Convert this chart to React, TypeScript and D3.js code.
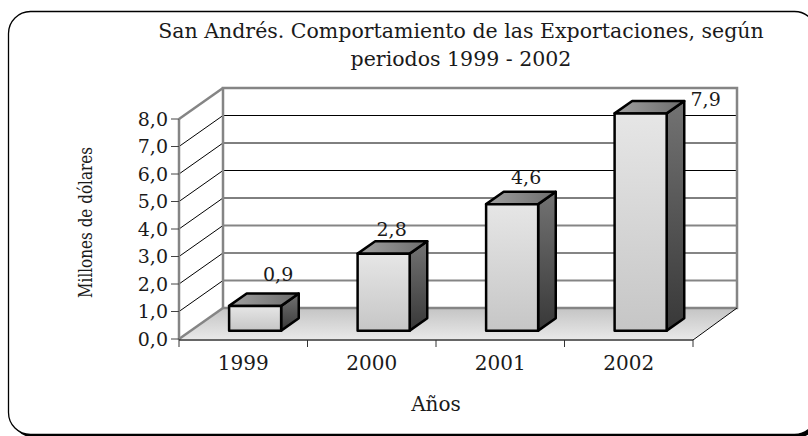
import React from "react";
import * as d3 from "d3";

// ---- data ----
const categories: string[] = ["1999", "2000", "2001", "2002"];
const values: number[] = [0.9, 2.8, 4.6, 7.9];
const yTicks: number[] = [0, 1, 2, 3, 4, 5, 6, 7, 8];
const titleLines: string[] = [
  "San Andrés. Comportamiento de las Exportaciones, según",
  "periodos 1999 - 2002",
];
const yTitle = "Millones de dólares";
const xTitle = "Años";

// ---- layout ----
const W = 808;
const H = 436;
const X0 = 179;
const X1 = 693;
const Y0 = 339;
const Y1 = 119;
const DX = 44;
const DY = -31;
const FONT = "'DejaVu Serif', serif";
const TXT = "#1a1a1a";
const BAR_Z = 0.27;
const BAR_D = 0.4;
const BAR_W = 0.405;
const labelDx = [23, 8, 14, 65];
const labelDy = [-25, -17.6, -19.7, -7.3];

const fmt = (v: number) => d3.format(".1f")(v).replace(".", ",");

export default function App() {
  const x = d3.scaleBand<string>().domain(categories).range([X0, X1]).padding(0);
  const y = d3.scaleLinear().domain([0, 8]).range([Y0, Y1]);
  const bw = x.bandwidth();
  const gray = "#858585";

  const bars = categories.map((c, i) => {
    const v = values[i];
    const cx = (x(c) as number) + bw / 2 + BAR_Z * DX;
    const fw = bw * BAR_W;
    const l = cx - fw / 2;
    const r = cx + fw / 2;
    const yb = Y0 + BAR_Z * DY;
    const yt = y(v) + BAR_Z * DY;
    const sdx = BAR_D * DX;
    const sdy = BAR_D * DY;
    return { c, v, cx, l, r, yb, yt, sdx, sdy, i };
  });

  const pts = (a: number[][]) => a.map((p) => p.join(",")).join(" ");

  return (
    <svg
      width={W}
      height={H}
      style={{ position: "fixed", left: 0, top: 0, background: "#fff" }}
      fontFamily={FONT}
    >
      <defs>
        <linearGradient id="floorG" x1="0" y1="0" x2="0" y2="1">
          <stop offset="0" stopColor="#c4c4c4" />
          <stop offset="1" stopColor="#e8e8e8" />
        </linearGradient>
        <linearGradient id="frontG" x1="0" y1="0" x2="0" y2="1">
          <stop offset="0" stopColor="#e6e6e6" />
          <stop offset="1" stopColor="#c6c6c6" />
        </linearGradient>
        <linearGradient id="topG" x1="0" y1="0" x2="1" y2="0">
          <stop offset="0" stopColor="#a0a0a0" />
          <stop offset="1" stopColor="#6c6c6c" />
        </linearGradient>
        <linearGradient id="sideG" x1="0" y1="0" x2="0" y2="1">
          <stop offset="0" stopColor="#737373" />
          <stop offset="1" stopColor="#383838" />
        </linearGradient>
      </defs>

      {/* frame */}
      <rect x={11.5} y={14.5} width={808} height={423} rx={22} fill="#000" />
      <rect x={8.5} y={11.5} width={808} height={423} rx={22} fill="#fff" stroke="#000" strokeWidth={1.3} />

      {/* title */}
      {titleLines.map((t, i) => (
        <text key={t} x={461} y={38 + i * 28} textAnchor="middle" fontSize={20.5} fill={TXT}>
          {t}
        </text>
      ))}

      {/* side wall */}
      <polygon points={pts([[X0, Y0], [X0 + DX, Y0 + DY], [X0 + DX, Y1 + DY], [X0, Y1]])} fill="#fff" />
      {/* back wall */}
      <rect x={X0 + DX} y={Y1 + DY} width={X1 - X0} height={Y0 - Y1} fill="#fff" />
      {/* floor */}
      <polygon
        points={pts([[X0, Y0], [X1, Y0], [X1 + DX, Y0 + DY], [X0 + DX, Y0 + DY]])}
        fill="url(#floorG)"
      />

      {/* gridlines on back wall */}
      {yTicks
        .filter((v) => v > 0 && v < 8)
        .map((v) => (
          <line
            key={"g" + v}
            x1={X0 + DX}
            x2={X1 + DX}
            y1={y(v) + DY}
            y2={y(v) + DY}
            stroke={v >= 4 ? "#000" : gray}
            strokeWidth={v >= 4 ? 1 : 2}
          />
        ))}
      {/* diagonals on side wall */}
      {yTicks
        .filter((v) => v > 0 && v < 8)
        .map((v) => (
          <line key={"d" + v} x1={X0} y1={y(v)} x2={X0 + DX} y2={y(v) + DY} stroke="#000" strokeWidth={1} />
        ))}

      {/* wall borders */}
      <polyline
        points={pts([[X0 + DX, Y0 + DY], [X1 + DX, Y0 + DY], [X1 + DX, Y1 + DY], [X0 + DX, Y1 + DY], [X0 + DX, Y0 + DY]])}
        fill="none"
        stroke={gray}
        strokeWidth={2.5}
      />
      <line x1={X0} y1={Y1} x2={X0 + DX} y2={Y1 + DY} stroke={gray} strokeWidth={2.5} />
      <line x1={X0} y1={Y0} x2={X0 + DX} y2={Y0 + DY} stroke={gray} strokeWidth={2.5} />
      <line x1={X1} y1={Y0 + 1} x2={X1 + DX} y2={Y0 + DY} stroke="#000" strokeWidth={1} />

      {/* y axis */}
      <line x1={X0} y1={Y0 + 1} x2={X0} y2={Y1} stroke={gray} strokeWidth={2.5} />
      {yTicks.map((v) => (
        <g key={"t" + v}>
          <line x1={X0 - 8} x2={X0} y1={y(v)} y2={y(v)} stroke="#444" strokeWidth={1} />
          <text x={168} y={y(v) + 6.5} textAnchor="end" fontSize={19} fill={TXT}>
            {fmt(v)}
          </text>
        </g>
      ))}

      {/* x axis */}
      <line x1={X0} x2={X1} y1={Y0 + 1} y2={Y0 + 1} stroke="#333" strokeWidth={1.5} />
      {d3.range(categories.length + 1).map((k) => (
        <line key={"xt" + k} x1={X0 + k * bw} x2={X0 + k * bw} y1={Y0 + 1} y2={Y0 + 8} stroke="#333" strokeWidth={1} />
      ))}
      {categories.map((c) => (
        <text key={"xl" + c} x={(x(c) as number) + bw / 2} y={369.5} textAnchor="middle" fontSize={20} fill={TXT}>
          {c}
        </text>
      ))}

      {/* bars */}
      {bars.map((b) => (
        <g key={"b" + b.c} stroke="#000" strokeWidth={2.5} strokeLinejoin="round">
          <polygon
            points={pts([[b.r, b.yt], [b.r + b.sdx, b.yt + b.sdy], [b.r + b.sdx, b.yb + b.sdy], [b.r, b.yb]])}
            fill="url(#sideG)"
          />
          <polygon
            points={pts([[b.l, b.yt], [b.r, b.yt], [b.r + b.sdx, b.yt + b.sdy], [b.l + b.sdx, b.yt + b.sdy]])}
            fill="url(#topG)"
          />
          <rect x={b.l} y={b.yt} width={b.r - b.l} height={b.yb - b.yt} fill="url(#frontG)" />
        </g>
      ))}
      {bars.map((b) => (
        <text
          key={"v" + b.c}
          x={b.cx + labelDx[b.i]}
          y={b.yt + labelDy[b.i]}
          textAnchor="middle"
          fontSize={19}
          fill={TXT}
        >
          {fmt(b.v)}
        </text>
      ))}

      {/* axis titles */}
      <text
        transform="translate(92,222.5) rotate(-90)"
        textAnchor="middle"
        fontSize={19}
        textLength={151}
        lengthAdjust="spacingAndGlyphs"
        fill={TXT}
      >
        {yTitle}
      </text>
      <text x={436} y={410.5} textAnchor="middle" fontSize={20} fill={TXT}>
        {xTitle}
      </text>
    </svg>
  );
}
